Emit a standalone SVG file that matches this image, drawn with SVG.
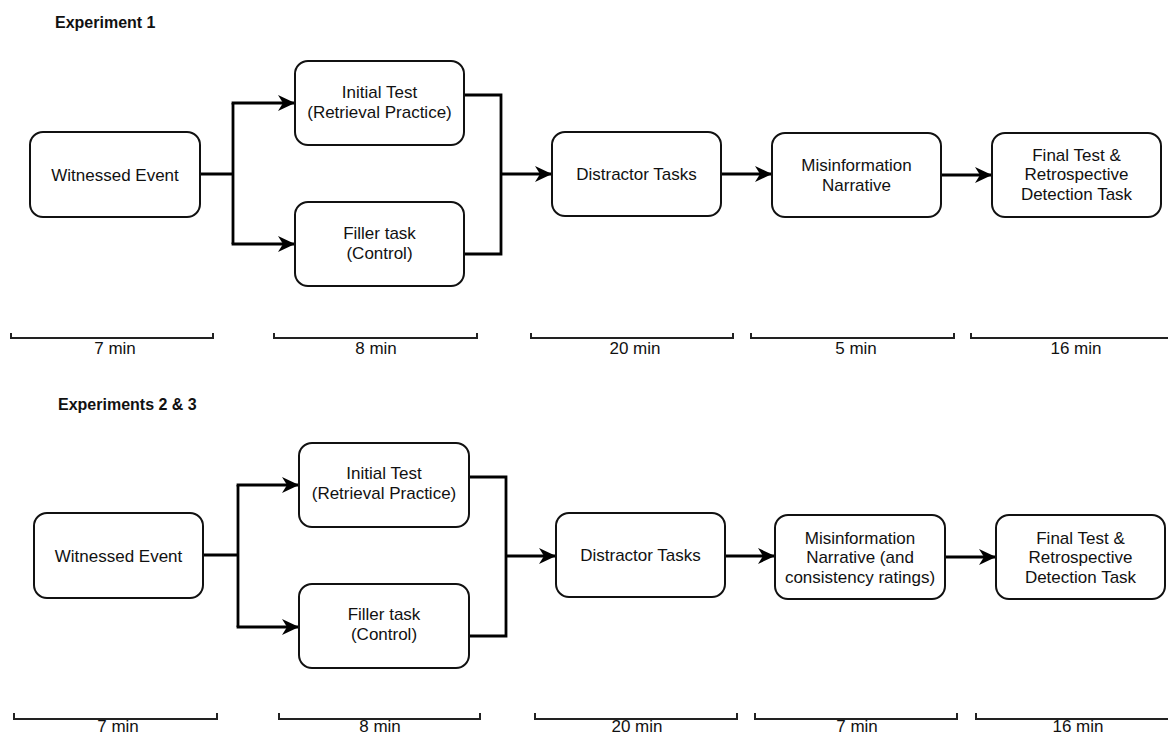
<svg xmlns="http://www.w3.org/2000/svg" width="1168" height="735" viewBox="0 0 1168 735">
<style>
.box{fill:#fff;stroke:#111;stroke-width:2}
.t{font-family:"Liberation Sans",Arial,sans-serif;font-size:17px;fill:#111;text-anchor:middle}
.h{font-family:"Liberation Sans",Arial,sans-serif;font-size:16px;font-weight:bold;fill:#111}
.c{fill:none;stroke:#000;stroke-width:2.8}
.bar{fill:none;stroke:#222;stroke-width:2}
</style>
<defs>
<marker id="ah" markerUnits="userSpaceOnUse" markerWidth="18" markerHeight="16" refX="17" refY="8" orient="auto">
<path d="M0,0 L17,8 L0,16 L5,8 Z" fill="#000"/>
</marker>
</defs>
<rect width="1168" height="735" fill="#fff"/>
<text class="h" x="55" y="28">Experiment 1</text>
<text class="h" x="58" y="410">Experiments 2 &amp; 3</text>

<g id="connectors">
<path class="c" d="M200,174 H233 M233,103 V244"/>
<path class="c" d="M231.6,103 H295" marker-end="url(#ah)"/>
<path class="c" d="M231.6,244 H295" marker-end="url(#ah)"/>
<path class="c" d="M464,95 H501 V254 H464"/>
<path class="c" d="M501,174 H552" marker-end="url(#ah)"/>
<path class="c" d="M721,174 H772" marker-end="url(#ah)"/>
<path class="c" d="M941,175 H992" marker-end="url(#ah)"/>

<path class="c" d="M203,555 H238 M238,485 V627"/>
<path class="c" d="M236.6,485 H299" marker-end="url(#ah)"/>
<path class="c" d="M236.6,627 H299" marker-end="url(#ah)"/>
<path class="c" d="M469,477 H506 V636 H469"/>
<path class="c" d="M506,556 H556" marker-end="url(#ah)"/>
<path class="c" d="M725,556 H775" marker-end="url(#ah)"/>
<path class="c" d="M945,557 H996" marker-end="url(#ah)"/>
</g>

<g id="witnessed1"><rect class="box" x="30" y="132" width="170" height="85" rx="13"/><text class="t" x="115" y="181">Witnessed Event</text></g>
<g id="initial1"><rect class="box" x="295" y="61" width="169" height="84" rx="13"/><text class="t" x="379.5" y="97.5">Initial Test</text><text class="t" x="379.5" y="117.5">(Retrieval Practice)</text></g>
<g id="filler1"><rect class="box" x="295" y="202" width="169" height="84" rx="13"/><text class="t" x="379.5" y="238.5">Filler task</text><text class="t" x="379.5" y="258.5">(Control)</text></g>
<g id="distractor1"><rect class="box" x="552" y="132" width="169" height="84" rx="13"/><text class="t" x="636.5" y="180">Distractor Tasks</text></g>
<g id="misinfo1"><rect class="box" x="772" y="133" width="169" height="84" rx="13"/><text class="t" x="856.5" y="171">Misinformation</text><text class="t" x="856.5" y="191">Narrative</text></g>
<g id="final1"><rect class="box" x="992" y="133" width="169" height="84" rx="13"/><text class="t" x="1076.5" y="160.5">Final Test &amp;</text><text class="t" x="1076.5" y="180">Retrospective</text><text class="t" x="1076.5" y="199.5">Detection Task</text></g>

<g id="witnessed2"><rect class="box" x="34" y="513" width="169" height="85" rx="13"/><text class="t" x="118.5" y="561.5">Witnessed Event</text></g>
<g id="initial2"><rect class="box" x="299" y="443" width="170" height="84" rx="13"/><text class="t" x="384" y="479">Initial Test</text><text class="t" x="384" y="499">(Retrieval Practice)</text></g>
<g id="filler2"><rect class="box" x="299" y="584" width="170" height="84" rx="13"/><text class="t" x="384" y="620">Filler task</text><text class="t" x="384" y="640">(Control)</text></g>
<g id="distractor2"><rect class="box" x="556" y="513" width="169" height="84" rx="13"/><text class="t" x="640.5" y="561">Distractor Tasks</text></g>
<g id="misinfo2"><rect class="box" x="775" y="515" width="170" height="84" rx="13"/><text class="t" x="860" y="543.5">Misinformation</text><text class="t" x="860" y="563">Narrative (and</text><text class="t" x="860" y="582.5">consistency ratings)</text></g>
<g id="final2"><rect class="box" x="996" y="515" width="169" height="84" rx="13"/><text class="t" x="1080.5" y="543.5">Final Test &amp;</text><text class="t" x="1080.5" y="563">Retrospective</text><text class="t" x="1080.5" y="582.5">Detection Task</text></g>

<g id="timeline1">
<path class="bar" d="M11,333 V338 H213 V333"/>
<path class="bar" d="M274,333 V338 H477 V333"/>
<path class="bar" d="M531,333 V338 H733 V333"/>
<path class="bar" d="M751,333 V338 H954 V333"/>
<path class="bar" d="M971,333 V338 H1168"/>
<text class="t" x="115" y="354">7 min</text>
<text class="t" x="376" y="354">8 min</text>
<text class="t" x="635" y="354">20 min</text>
<text class="t" x="856" y="354">5 min</text>
<text class="t" x="1076" y="354">16 min</text>
</g>
<g id="timeline2">
<path class="bar" d="M14,713 V719 H217 V713"/>
<path class="bar" d="M279,713 V719 H480 V713"/>
<path class="bar" d="M535,713 V719 H737 V713"/>
<path class="bar" d="M755,713 V719 H957 V713"/>
<path class="bar" d="M976,713 V719 H1168"/>
<text class="t" x="118" y="732">7 min</text>
<text class="t" x="380" y="732">8 min</text>
<text class="t" x="637" y="732">20 min</text>
<text class="t" x="857" y="732">7 min</text>
<text class="t" x="1078" y="732">16 min</text>
</g>
</svg>
